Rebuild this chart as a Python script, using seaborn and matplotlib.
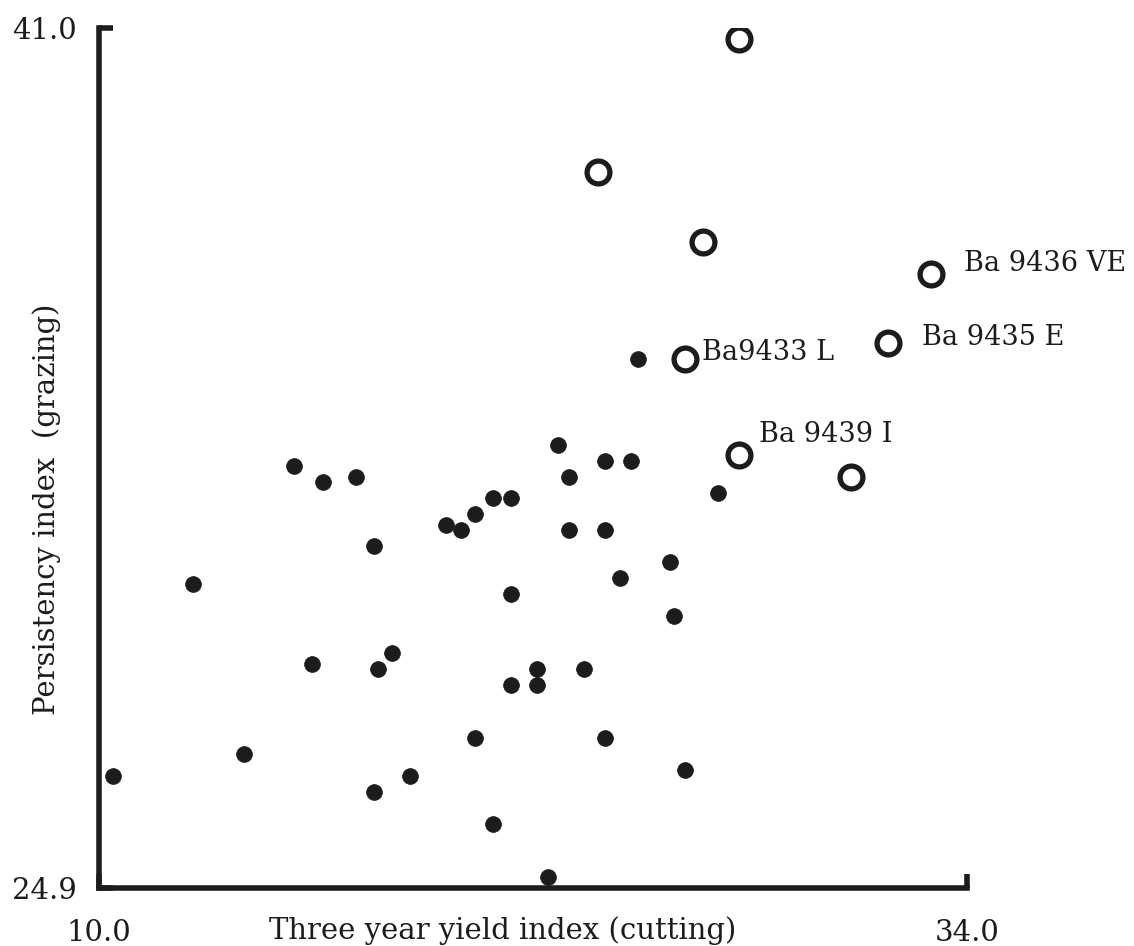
import matplotlib
matplotlib.use("Agg")
import matplotlib.pyplot as plt
import seaborn as sns
import pandas as pd

# ---- data ----
line_yield = [10.4, 12.6, 14.0, 15.4, 16.2, 17.1, 15.9, 17.6, 17.7, 18.1, 17.6, 18.6,
              19.6, 20.0, 20.4, 20.9, 21.4, 21.4, 20.4, 20.9, 21.4, 22.1, 22.1, 22.4,
              22.7, 23.0, 23.0, 23.4, 24.0, 24.0, 24.4, 24.0, 24.7, 24.9, 25.8, 25.9,
              26.2, 27.1]
line_persist = [27.0, 30.6, 27.4, 32.8, 32.5, 32.6, 29.1, 31.3, 29.0, 29.3, 26.7, 27.0,
                31.7, 31.6, 31.9, 32.2, 32.2, 30.4, 27.7, 26.1, 28.7, 29.0, 28.7, 25.1,
                33.2, 32.6, 31.6, 29.0, 32.9, 31.6, 30.7, 27.7, 32.9, 34.8, 31.0, 30.0,
                27.1, 32.3]

sel_yield = [27.7, 23.8, 26.7, 33.0, 31.8, 26.2, 27.7, 30.8]
sel_persist = [40.8, 38.3, 37.0, 36.4, 35.1, 34.8, 33.0, 32.6]
sel_names = ["", "", "", "Ba 9436 VE", "Ba 9435 E", "Ba9433 L", "Ba 9439 I", ""]

x_ticks = [10.0, 34.0]
y_ticks = [24.9, 41.0]
x_label = "Three year yield index (cutting)"
y_label = "Persistency index  (grazing)"

df_lines = pd.DataFrame({"yield": line_yield, "persist": line_persist})
df_sel = pd.DataFrame({"yield": sel_yield, "persist": sel_persist, "name": sel_names})

sns.set_style("white")
plt.rcParams["font.family"] = ["DejaVu Serif", "DejaVu Sans"]

ink = "#1c1c1c"
fig = plt.figure(figsize=(11.34, 9.46), dpi=100)
ax = fig.add_axes([0.0873, 0.0613, 0.7655, 0.9091])

sns.scatterplot(data=df_lines, x="yield", y="persist", ax=ax, s=130, color=ink,
                edgecolor=ink, linewidth=0.5, marker="o", zorder=3)
sns.scatterplot(data=df_sel, x="yield", y="persist", ax=ax, s=270, facecolor="white",
                edgecolor=ink, linewidth=3.8, marker="o", zorder=3)

offsets = {
    "Ba 9436 VE": (24, 7),
    "Ba 9435 E": (25, 4),
    "Ba9433 L": (12, 5),
    "Ba 9439 I": (14, 15),
}
for _, r in df_sel.iterrows():
    if r["name"]:
        dx, dy = offsets[r["name"]]
        ax.annotate(r["name"], (r["yield"], r["persist"]), xytext=(dx, dy),
                    textcoords="offset points", fontsize=19.5, color=ink,
                    ha="left", va="center")

ax.set_xlim(x_ticks[0], x_ticks[1])
ax.set_ylim(y_ticks[0], y_ticks[1])
ax.set_xticks(x_ticks)
ax.set_yticks(y_ticks)
ax.set_xticklabels([f"{v:.1f}" for v in x_ticks], fontsize=21)
ax.set_yticklabels([f"{v:.1f}" for v in y_ticks], fontsize=21)
ax.tick_params(axis="both", direction="in", length=10, width=4, color=ink,
               labelcolor=ink, left=True, bottom=True)
ax.tick_params(axis="x", pad=22)
ax.tick_params(axis="y", pad=16)

for side in ["top", "right"]:
    ax.spines[side].set_visible(False)
for side in ["left", "bottom"]:
    ax.spines[side].set_linewidth(4)
    ax.spines[side].set_color(ink)
    ax.spines[side].set_capstyle("projecting")

ax.set_xlabel(x_label, fontsize=21, color=ink)
ax.set_ylabel(y_label, fontsize=21, color=ink)
ax.xaxis.set_label_coords(0.465, -0.049)
ax.yaxis.set_label_coords(-0.06, 0.44)
ax.xaxis.label.set_va("center")
ax.yaxis.label.set_va("center")

fig.savefig("out.png", dpi=100, facecolor="white")
